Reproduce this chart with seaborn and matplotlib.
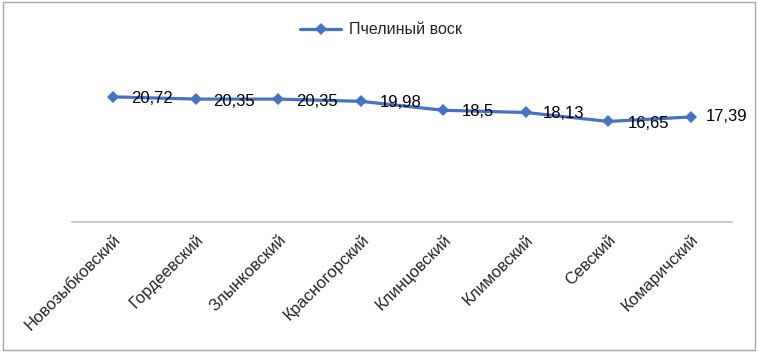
import pandas as pd
import seaborn as sns
import matplotlib.pyplot as plt
from matplotlib.patches import Rectangle

districts = ["Новозыбковский", "Гордеевский", "Злынковский", "Красногорский",
             "Клинцовский", "Климовский", "Севский", "Комаричский"]
wax = [20.72, 20.35, 20.35, 19.98, 18.5, 18.13, 16.65, 17.39]
wax_labels = ["20,72", "20,35", "20,35", "19,98", "18,5", "18,13", "16,65", "17,39"]
series_name = "Пчелиный воск"

# label nudges in points (dx, dy)
label_offsets = [(13, -1), (12.5, -2), (13, -2), (13.5, -1), (13, -1), (12.5, -1), (14, -1.5), (11, 0)]

df = pd.DataFrame({"district": districts, "value": wax})

sns.set_style("white")
plt.rcParams['font.family'] = ['Liberation Sans', 'DejaVu Sans']

fig = plt.figure(figsize=(7.58, 3.53), dpi=100)
ax = fig.add_axes([72 / 758, 1 - 222 / 353, 660 / 758, 151 / 353])

sns.lineplot(data=df, x="district", y="value", sort=False, ax=ax,
             color="#4472C4", linewidth=2.3, marker="D", markersize=6,
             markeredgewidth=0, label=series_name)

for i, (v, txt) in enumerate(zip(wax, wax_labels)):
    dx, dy = label_offsets[i]
    ax.annotate(txt, (i, v), xytext=(dx, dy), textcoords="offset points",
                ha="left", va="center", fontsize=12, color="black")

ax.set_ylim(0, 25)
ax.set_xlim(-0.5, len(districts) - 0.5)
ax.set_xlabel("")
ax.set_ylabel("")
ax.set_yticks([])
ax.tick_params(axis="x", length=0, pad=7)
plt.setp(ax.get_xticklabels(), rotation=45, ha="right", rotation_mode="anchor",
         fontsize=12)
for s in ["top", "right", "left"]:
    ax.spines[s].set_visible(False)
ax.spines["bottom"].set_color("#BFBFBF")
ax.spines["bottom"].set_linewidth(1.2)
ax.set_facecolor("white")

ax.legend(loc="center", bbox_to_anchor=(381 / 758, 1 - 30 / 353),
          bbox_transform=fig.transFigure, frameon=False, fontsize=11.5,
          handlelength=2.6, handletextpad=0.5)

fig.patches.append(Rectangle((3 / 758, 3 / 353), 752 / 758, 348 / 353,
                             transform=fig.transFigure, fill=False,
                             edgecolor="#A6A6A6", linewidth=1))

plt.savefig("out.png", dpi=100)
